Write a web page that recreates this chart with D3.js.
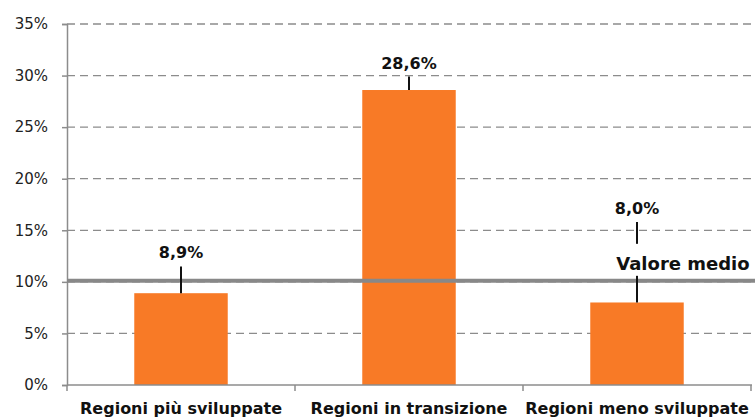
<!DOCTYPE html>
<html>
<head>
<meta charset="utf-8">
<script src="https://d3js.org/d3.v7.min.js"></script>
<style>
  body { margin: 0; background: #fff; }
  text { font-family: "DejaVu Sans", sans-serif; }
</style>
</head>
<body>
<svg width="755" height="419"></svg>
<script>
  // data
  var categories = ["Regioni più sviluppate", "Regioni in transizione", "Regioni meno sviluppate"];
  var values = [8.9, 28.6, 8.0];
  var errorTops = [11.5, 29.9, 15.8];
  var valueLabels = ["8,9%", "28,6%", "8,0%"];
  var yTicks = [0, 5, 10, 15, 20, 25, 30, 35];
  var meanValue = 10.1;
  var meanLabel = "Valore medio";

  var margin = {left: 67, right: 3, top: 24, bottom: 34};
  var width = 755 - margin.left - margin.right;
  var height = 419 - margin.top - margin.bottom;
  var step = 228;

  var svg = d3.select("svg");
  var g = svg.append("g")
    .attr("transform", "translate(" + margin.left + "," + margin.top + ")");

  var x = d3.scaleBand()
    .domain(categories)
    .range([0, step * categories.length])
    .paddingInner(0.59)
    .paddingOuter(0.295);

  var y = d3.scaleLinear()
    .domain([0, 35])
    .range([height, 0]);

  // gridlines
  g.append("g")
    .selectAll("line")
    .data(yTicks.filter(function(d) { return d > 0; }))
    .enter().append("line")
    .attr("x1", 0)
    .attr("x2", width)
    .attr("y1", function(d) { return y(d); })
    .attr("y2", function(d) { return y(d); })
    .attr("stroke", "#8c8c8c")
    .attr("stroke-width", 1.3)
    .attr("stroke-dasharray", "8,5");

  // y axis
  var yAxis = d3.axisLeft(y)
    .tickValues(yTicks)
    .tickSize(5)
    .tickPadding(14)
    .tickFormat(function(d) { return d + "%"; });

  var ya = g.append("g").call(yAxis);
  ya.select(".domain").attr("stroke", "#8c8c8c").attr("stroke-width", 1.5);
  ya.selectAll(".tick line").attr("stroke", "#8c8c8c").attr("stroke-width", 1.5);
  ya.selectAll(".tick text")
    .attr("font-size", 15)
    .attr("fill", "#222")
    .style("font-family", "'DejaVu Sans', sans-serif");

  // bars
  g.append("g")
    .selectAll("rect")
    .data(values)
    .enter().append("rect")
    .attr("x", function(d, i) { return x(categories[i]); })
    .attr("y", function(d) { return y(d); })
    .attr("width", x.bandwidth())
    .attr("height", function(d) { return y(0) - y(d); })
    .attr("fill", "#f87a26");

  // mean line
  g.append("line")
    .attr("x1", 0)
    .attr("x2", width + margin.right)
    .attr("y1", y(meanValue))
    .attr("y2", y(meanValue))
    .attr("stroke", "#888")
    .attr("stroke-width", 4);

  // error bars
  g.append("g")
    .selectAll("line")
    .data(values)
    .enter().append("line")
    .attr("x1", function(d, i) { return x(categories[i]) + x.bandwidth() / 2; })
    .attr("x2", function(d, i) { return x(categories[i]) + x.bandwidth() / 2; })
    .attr("y1", function(d) { return y(d); })
    .attr("y2", function(d, i) { return y(errorTops[i]); })
    .attr("stroke", "#111")
    .attr("stroke-width", 2);

  // mean label with white background
  var mx = x(categories[2]) + 15;
  g.append("rect")
    .attr("x", mx - 15)
    .attr("y", y(meanValue) - 37)
    .attr("width", width - (mx - 15) + margin.right)
    .attr("height", 32)
    .attr("fill", "#fff");
  g.append("text")
    .attr("x", mx + 11)
    .attr("y", y(meanValue) - 11)
    .attr("font-size", 18)
    .attr("font-weight", "bold")
    .attr("fill", "#111")
    .text(meanLabel);

  // value labels
  g.append("g")
    .selectAll("text")
    .data(valueLabels)
    .enter().append("text")
    .attr("x", function(d, i) { return x(categories[i]) + x.bandwidth() / 2; })
    .attr("y", function(d, i) { return y(errorTops[i]) - 8; })
    .attr("text-anchor", "middle")
    .attr("font-size", 16)
    .attr("font-weight", "bold")
    .attr("fill", "#111")
    .text(function(d) { return d; });

  // x axis
  var xa = g.append("g").attr("transform", "translate(0," + height + ")");
  xa.append("line")
    .attr("x1", 0).attr("x2", width)
    .attr("stroke", "#8c8c8c").attr("stroke-width", 1.5);
  xa.selectAll(".sep")
    .data(d3.range(categories.length + 1))
    .enter().append("line")
    .attr("class", "sep")
    .attr("x1", function(d) { return d * step; })
    .attr("x2", function(d) { return d * step; })
    .attr("y1", 0).attr("y2", 6)
    .attr("stroke", "#8c8c8c").attr("stroke-width", 1.5);
  xa.selectAll("text")
    .data(categories)
    .enter().append("text")
    .attr("x", function(d) { return x(d) + x.bandwidth() / 2; })
    .attr("y", 29)
    .attr("text-anchor", "middle")
    .attr("font-size", 16)
    .attr("font-weight", "bold")
    .attr("fill", "#111")
    .text(function(d) { return d; });
</script>
</body>
</html>
